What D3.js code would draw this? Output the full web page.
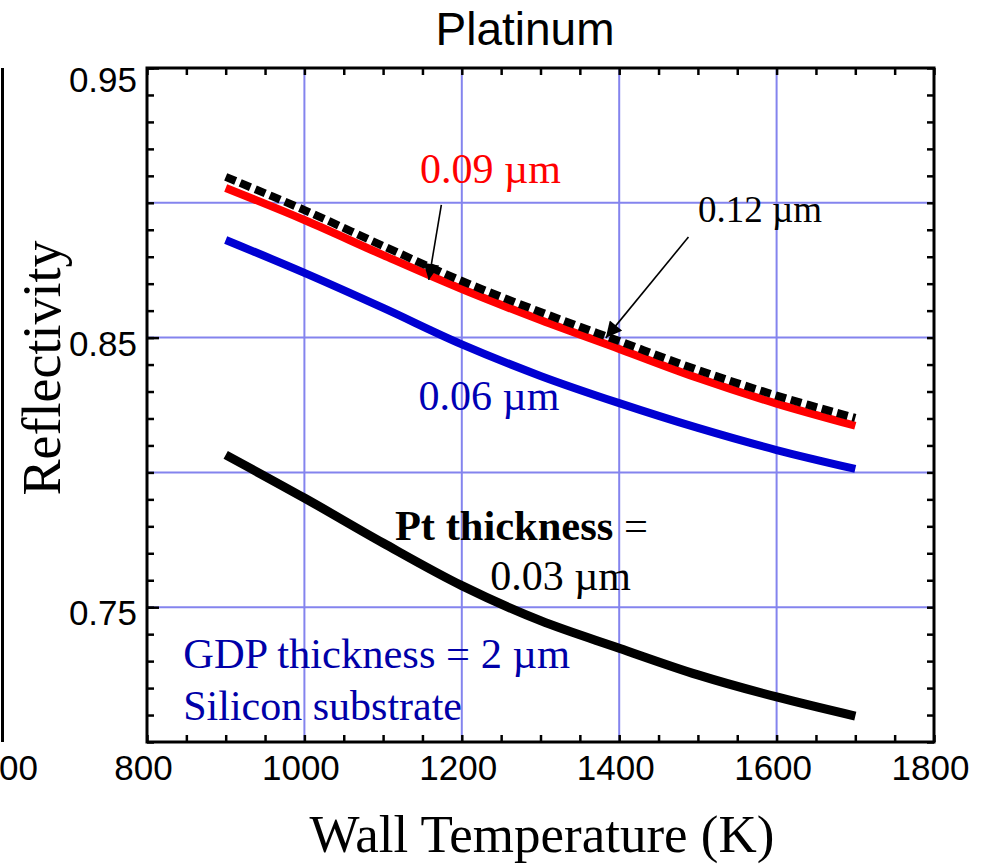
<!DOCTYPE html>
<html>
<head>
<meta charset="utf-8">
<script src="https://cdn.jsdelivr.net/npm/d3@7"></script>
<style>
  body { margin: 0; background: #fff; }
  svg { display: block; }
</style>
</head>
<body>
<svg id="chart" width="988" height="864"></svg>
<script>
// wall temperature (K)
let temps = [900, 1000, 1100, 1200, 1300, 1400, 1500, 1600, 1700];
// reflectivity for each Pt thickness
let pt003 = [0.8065, 0.7905, 0.7738, 0.7580, 0.7450, 0.7348, 0.7249, 0.7167, 0.7096];
let pt006 = [0.8862, 0.8740, 0.8610, 0.8475, 0.8358, 0.8257, 0.8165, 0.8083, 0.8013];
let pt009 = [0.9055, 0.8936, 0.8806, 0.8680, 0.8565, 0.8458, 0.8350, 0.8255, 0.8173];
let pt012 = [0.9096, 0.8973, 0.8840, 0.8710, 0.8595, 0.8487, 0.8380, 0.8285, 0.8202];

let xTicks = [800, 1000, 1200, 1400, 1600, 1800];
let yLabelTicks = [0.75, 0.85, 0.95];
let yGridTicks = [0.75, 0.80, 0.85, 0.90];

let plotL = 147, plotR = 934, plotT = 68, plotB = 742;

let svg = d3.select("#chart");

let x = d3.scaleLinear().domain([800, 1800]).range([plotL, plotR]);
let y = d3.scaleLinear().domain([0.70, 0.95]).range([plotB, plotT]);

let sans = "'Liberation Sans', Arial, sans-serif";
let serif = "'Liberation Serif', 'Times New Roman', serif";

// piece of the neighbouring panel on the left edge
svg.append("line")
    .attr("x1", 2.5).attr("x2", 2.5)
    .attr("y1", plotT).attr("y2", plotB)
    .style("stroke", "black").style("stroke-width", 3);
svg.append("text")
    .attr("x", 38).attr("y", 780)
    .attr("text-anchor", "end")
    .style("font-family", sans).style("font-size", "35px")
    .text("00");

// grid
svg.append("g").selectAll("line")
    .data(xTicks.slice(1, -1))
    .join("line")
    .attr("x1", d => x(d)).attr("x2", d => x(d))
    .attr("y1", plotT).attr("y2", plotB)
    .style("stroke", "#8484ee").style("stroke-width", 2);
svg.append("g").selectAll("line")
    .data(yGridTicks)
    .join("line")
    .attr("x1", plotL).attr("x2", plotR)
    .attr("y1", d => y(d)).attr("y2", d => y(d))
    .style("stroke", "#8484ee").style("stroke-width", 2);

// minor ticks pointing inward on all four sides
let xMinor = d3.range(800, 1801, 50);
let yMinor = d3.range(70, 96, 1).map(d => d / 100);

function minorAxis(axis, tr) {
    let g = svg.append("g")
        .attr("transform", tr)
        .call(axis.tickFormat(""));
    g.select(".domain").remove();
    g.selectAll(".tick line").style("stroke-width", 2.5);
}
minorAxis(d3.axisTop(x).tickValues(xMinor).tickSize(7), "translate(0," + plotB + ")");
minorAxis(d3.axisBottom(x).tickValues(xMinor).tickSize(7), "translate(0," + plotT + ")");
minorAxis(d3.axisRight(y).tickValues(yMinor).tickSize(7), "translate(" + plotL + ",0)");
minorAxis(d3.axisLeft(y).tickValues(yMinor).tickSize(7), "translate(" + plotR + ",0)");
minorAxis(d3.axisRight(y).tickValues(yLabelTicks).tickSize(12), "translate(" + plotL + ",0)");

// tick labels
let xAxis = svg.append("g")
    .attr("transform", "translate(0," + plotB + ")")
    .call(d3.axisBottom(x).tickValues(xTicks).tickSize(0).tickPadding(12).tickFormat(d3.format("d")))
    .style("font-family", sans)
    .style("font-size", "35px");
xAxis.select(".domain").remove();
xAxis.selectAll("text").attr("fill", "black").attr("dx", "-4").attr("dy", "0.75em");

let yAxis = svg.append("g")
    .attr("transform", "translate(" + plotL + ",0)")
    .call(d3.axisLeft(y).tickValues(yLabelTicks).tickSize(0).tickPadding(10).tickFormat(d3.format(".2f")))
    .style("font-family", sans)
    .style("font-size", "35px");
yAxis.select(".domain").remove();
yAxis.selectAll("text").attr("fill", "black").attr("dy", d => d === 0.95 ? "0.68em" : "0.5em");

// frame
svg.append("rect")
    .attr("x", plotL).attr("y", plotT)
    .attr("width", plotR - plotL).attr("height", plotB - plotT)
    .style("fill", "none").style("stroke", "black").style("stroke-width", 3);

// curves
let line = d3.line()
    .x((d, i) => x(temps[i]))
    .y(d => y(d))
    .curve(d3.curveCatmullRom.alpha(0.5));

svg.append("path").datum(pt003)
    .attr("d", line)
    .style("fill", "none").style("stroke", "black").style("stroke-width", 9);
svg.append("path").datum(pt006)
    .attr("d", line)
    .style("fill", "none").style("stroke", "#0000d2").style("stroke-width", 8);
svg.append("path").datum(pt009)
    .attr("d", line)
    .style("fill", "none").style("stroke", "#ff0000").style("stroke-width", 8);
svg.append("path").datum(pt012)
    .attr("d", line)
    .style("fill", "none").style("stroke", "black").style("stroke-width", 8)
    .style("stroke-dasharray", "11,5");

// arrows pointing at the 0.09 and 0.12 curves
svg.append("defs").append("marker")
    .attr("id", "head")
    .attr("viewBox", "0 0 10 10")
    .attr("refX", 10).attr("refY", 5)
    .attr("markerWidth", 18).attr("markerHeight", 16)
    .attr("markerUnits", "userSpaceOnUse")
    .attr("orient", "auto")
    .append("path")
    .attr("d", "M0,0 L10,5 L0,10 Z")
    .style("fill", "black");

let arrows = [
    {from: [1174, 0.8992], to: [1158, 0.8714]},
    {from: [1488, 0.8873], to: [1383, 0.8499]}
];
svg.append("g").selectAll("line")
    .data(arrows)
    .join("line")
    .attr("x1", d => x(d.from[0])).attr("y1", d => y(d.from[1]))
    .attr("x2", d => x(d.to[0])).attr("y2", d => y(d.to[1]))
    .style("stroke", "black").style("stroke-width", 1.6)
    .attr("marker-end", "url(#head)");

// annotation text
let labels = [
    {t: "0.09 µm", x: 1147, y: 0.9073, c: "#ff0000", s: 42},
    {t: "0.12 µm", x: 1500, y: 0.8929, c: "black", s: 37},
    {t: "0.06 µm", x: 1145, y: 0.8231, c: "#0000b4", s: 42},
    {t: "0.03 µm", x: 1236, y: 0.7564, c: "black", s: 42},
    {t: "GDP thickness = 2 µm", x: 846, y: 0.7275, c: "#0000a8", s: 42.5},
    {t: "Silicon substrate", x: 846, y: 0.7082, c: "#0000a8", s: 42}
];
svg.append("g").selectAll("text")
    .data(labels)
    .join("text")
    .attr("x", d => x(d.x)).attr("y", d => y(d.y))
    .style("font-family", serif)
    .style("font-size", d => d.s + "px")
    .style("fill", d => d.c)
    .text(d => d.t);

let pt = svg.append("text")
    .attr("x", x(1115)).attr("y", y(0.7749))
    .style("font-family", serif)
    .style("font-size", "42.5px");
pt.append("tspan").style("font-weight", "bold").text("Pt thickness");
pt.append("tspan").text(" =");

// titles
svg.append("text")
    .attr("x", 525).attr("y", 45)
    .attr("text-anchor", "middle")
    .style("font-family", sans).style("font-size", "46px")
    .text("Platinum");

svg.append("text")
    .attr("x", 542).attr("y", 852)
    .attr("text-anchor", "middle")
    .style("font-family", serif).style("font-size", "53px")
    .text("Wall Temperature (K)");

svg.append("text")
    .attr("transform", "translate(60," + 368 + ") rotate(-90)")
    .attr("text-anchor", "middle")
    .style("font-family", serif).style("font-size", "54px")
    .text("Reflectivity");
</script>
</body>
</html>
